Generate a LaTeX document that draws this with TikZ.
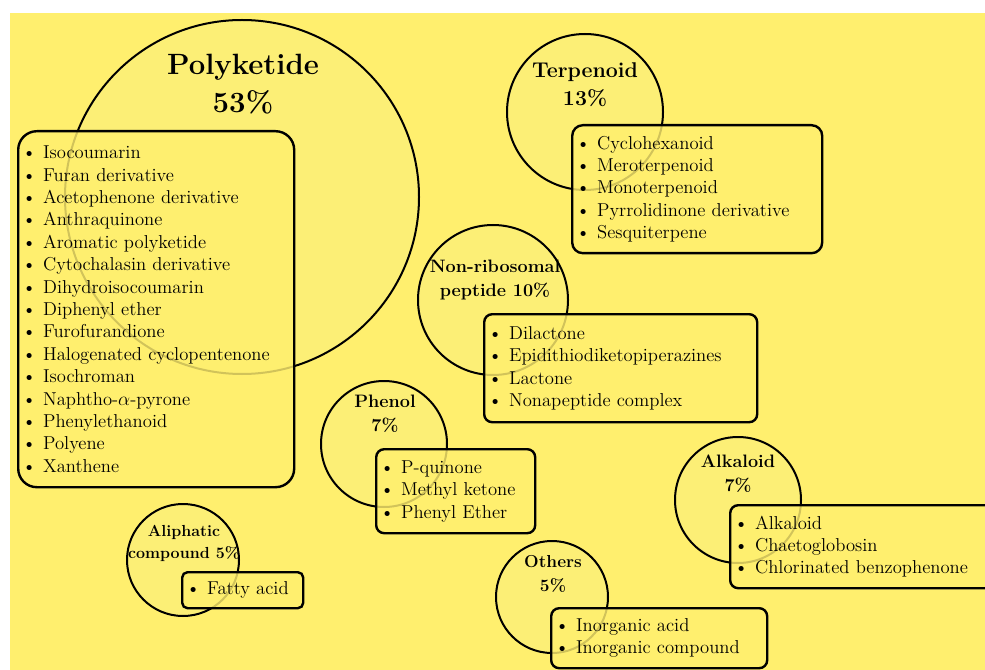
\documentclass[tikz,border=0pt]{standalone}
\usepackage{tikz}

\definecolor{bgyellow}{RGB}{255,239,110}
\definecolor{circyellow}{RGB}{252,239,118}

\newcommand{\itm}{\textbullet\hspace{5pt}}
\newcommand{\ttlfont}[2]{\fontsize{#1}{#2}\selectfont\bfseries}

\tikzset{
  group/.style={circle, draw, line width=1.5pt, fill=circyellow, inner sep=0pt},
  grptitle/.style={align=center, inner sep=0pt},
  listbox/.style={draw, line width=1.8pt, fill=bgyellow, fill opacity=0.82,
    text opacity=1, rounded corners=6pt, anchor=north west, align=left,
    inner xsep=3pt, inner ysep=0pt, font=\fontsize{14}{16.8}\selectfont}
}

\begin{document}
\begin{tikzpicture}[x=0.75pt,y=-0.75pt]
  \useasboundingbox (0,0) rectangle (985,670);
  \fill[white] (0,0) rectangle (985,670);
  \fill[bgyellow] (10,13) rectangle (985,670);

  % groups
  \node[group, minimum size=265.5pt] (pk) at (242,197) {};
  \node[group, minimum size=117pt] (tp) at (585,112) {};
  \node[group, minimum size=112.5pt] (nrp) at (493,300) {};
  \node[group, minimum size=94.5pt] (ph) at (384,444) {};
  \node[group, minimum size=84pt] (al) at (183,560) {};
  \node[group, minimum size=94.5pt] (ak) at (738,500) {};
  \node[group, minimum size=84pt] (ot) at (552,597) {};

  \node[grptitle, font=\ttlfont{22}{28.5}] (pktitle) at (243,84) {Polyketide\\53\%};
  \node[grptitle, font=\ttlfont{16}{21}] (tptitle) at (585,85) {Terpenoid\\13\%};
  \node[grptitle, font=\ttlfont{13.5}{18}] (nrptitle) at (495,280) {Non-ribosomal\\peptide 10\%};
  \node[grptitle, font=\ttlfont{13.5}{18}] (phtitle) at (385,414) {Phenol\\7\%};
  \node[grptitle, font=\ttlfont{12}{16.5}] (altitle) at (184,543) {Aliphatic\\compound 5\%};
  \node[grptitle, font=\ttlfont{13.5}{18}] (aktitle) at (738,474) {Alkaloid\\7\%};
  \node[grptitle, font=\ttlfont{13}{18}] (ottitle) at (553,574) {Others\\5\%};

  % lists
  \node[listbox, rounded corners=14pt, text width=201pt, minimum height=267pt] (pkbox) at (17,130)
    {\itm Isocoumarin\\ \itm Furan derivative\\ \itm Acetophenone derivative\\
     \itm Anthraquinone\\ \itm Aromatic polyketide\\ \itm Cytochalasin derivative\\
     \itm Dihydroisocoumarin\\ \itm Diphenyl ether\\ \itm Furofurandione\\
     \itm Halogenated cyclopentenone\\ \itm Isochroman\\ \itm Naphtho-$\alpha$-pyrone\\
     \itm Phenylethanoid\\ \itm Polyene\\ \itm Xanthene};
  \node[listbox, rounded corners=8pt, text width=181.5pt, minimum height=96pt] (tpbox) at (571,124)
    {\itm Cyclohexanoid\\ \itm Meroterpenoid\\ \itm Monoterpenoid\\
     \itm Pyrrolidinone derivative\\ \itm Sesquiterpene};
  \node[listbox, text width=198.75pt, minimum height=81pt] (nrpbox) at (483,313)
    {\itm Dilactone\\ \itm Epidithiodiketopiperazines\\ \itm Lactone\\
     \itm Nonapeptide complex};
  \node[listbox, text width=113.25pt, minimum height=63pt] (phbox) at (375,448)
    {\itm P-quinone\\ \itm Methyl ketone\\ \itm Phenyl Ether};
  \node[listbox, rounded corners=4pt, text width=84.75pt, minimum height=27pt] (albox) at (181,571)
    {\itm Fatty acid};
  \node[listbox, text width=193.5pt, minimum height=62.25pt] (akbox) at (729,504)
    {\itm Alkaloid\\ \itm Chaetoglobosin\\ \itm Chlorinated benzophenone};
  \node[listbox, text width=156pt, minimum height=45pt] (otbox) at (550,607)
    {\itm Inorganic acid\\ \itm Inorganic compound};
\end{tikzpicture}
\end{document}
